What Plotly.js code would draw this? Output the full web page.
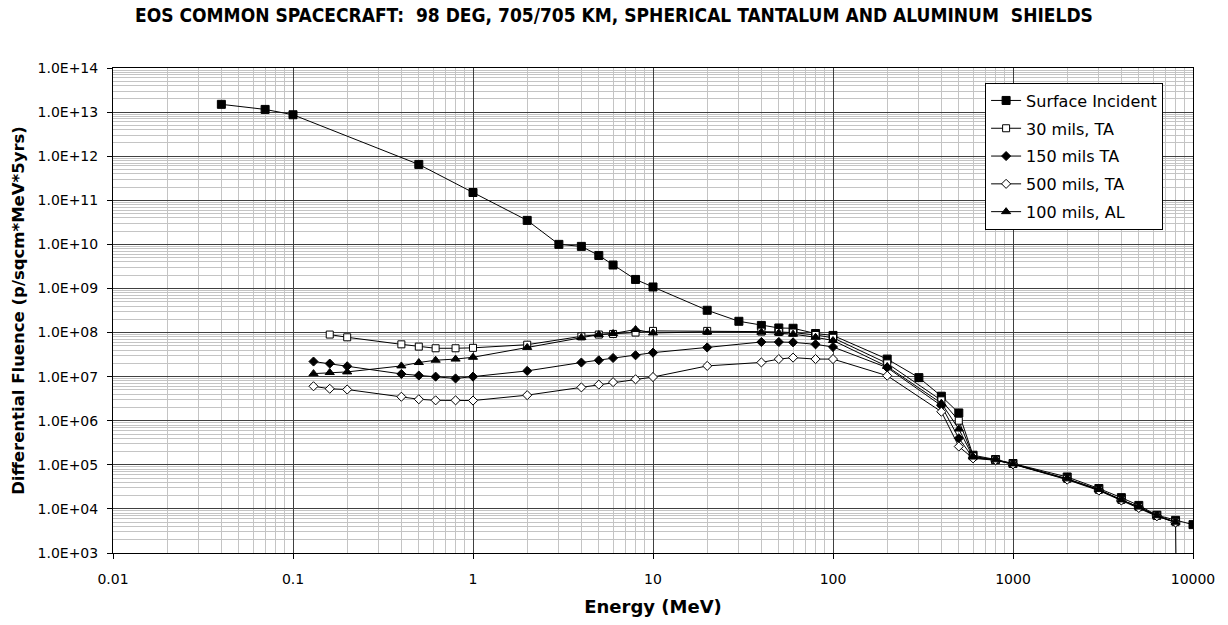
<!DOCTYPE html>
<html>
<head>
<meta charset="utf-8">
<script src="https://cdn.plot.ly/plotly-3.0.1.min.js"></script>
<style>
  html, body { margin: 0; padding: 0; background: #ffffff; }
  #chart { width: 1228px; height: 625px; }
</style>
</head>
<body>
<div id="chart"></div>
<script>
// Proton differential fluence behind spherical shields, EOS orbit (98 deg, 705 km)

// Energy grid (MeV) for the unshielded spectrum
const energySurface = [0.04, 0.07, 0.1, 0.5, 1, 2, 3, 4, 5, 6, 8, 10, 20, 30, 40, 50, 60, 80, 100,
  200, 300, 400, 500, 600, 800, 1000, 2000, 3000, 4000, 5000, 6300, 8000, 10000];
const fluenceSurface = [1.5e13, 1.15e13, 8.7e12, 6.5e11, 1.5e11, 3.5e10, 1.0e10, 9.0e9, 5.6e9, 3.4e9, 1.6e9, 1.08e9, 3.2e8, 1.8e8, 1.45e8, 1.27e8, 1.25e8, 9.5e7, 8.6e7,
  2.5e7, 9.5e6, 3.6e6, 1.5e6, 1.65e5, 1.32e5, 1.07e5, 5.3e4, 2.9e4, 1.8e4, 1.2e4, 7.2e3, 5.5e3, 4.4e3];

// Energy grid (MeV) for the shielded spectra
const energy30TA = [0.16, 0.2, 0.4, 0.5, 0.62, 0.8, 1, 2, 4, 5, 6, 8, 10, 20, 40, 50, 60, 80, 100,
  200, 400, 500, 600, 800, 1000, 2000, 3000, 4000, 5000, 6300, 8000];
const fluence30TA = [9.0e7, 7.8e7, 5.4e7, 4.8e7, 4.4e7, 4.4e7, 4.5e7, 5.3e7, 8.2e7, 9.0e7, 9.3e7, 1.0e8, 1.09e8, 1.09e8, 1.05e8, 1.03e8, 1.0e8, 8.8e7, 7.6e7,
  2.0e7, 2.9e6, 1.0e6, 1.55e5, 1.3e5, 1.05e5, 4.8e4, 2.7e4, 1.6e4, 1.1e4, 7.0e3, 5.0e3];

const energyShield = [0.13, 0.16, 0.2, 0.4, 0.5, 0.62, 0.8, 1, 2, 4, 5, 6, 8, 10, 20, 40, 50, 60, 80, 100,
  200, 400, 500, 600, 800, 1000, 2000, 3000, 4000, 5000, 6300, 8000];
const fluence150TA = [2.2e7, 1.98e7, 1.72e7, 1.15e7, 1.06e7, 1.0e7, 9.1e6, 1.0e7, 1.35e7, 2.09e7, 2.35e7, 2.65e7, 3.05e7, 3.5e7, 4.6e7, 6.1e7, 6.1e7, 6.0e7, 5.4e7, 4.7e7,
  1.6e7, 2.2e6, 4.0e5, 1.45e5, 1.28e5, 1.04e5, 4.7e4, 2.7e4, 1.6e4, 1.1e4, 7.0e3, 5.0e3];
const fluence100AL = [1.17e7, 1.24e7, 1.28e7, 1.75e7, 2.09e7, 2.36e7, 2.5e7, 2.75e7, 4.6e7, 7.7e7, 9.0e7, 9.5e7, 1.17e8, 9.8e7, 1.03e8, 1.02e8, 9.8e7, 9.2e7, 7.8e7, 6.6e7,
  1.7e7, 2.5e6, 6.5e5, 1.5e5, 1.3e5, 1.05e5, 4.8e4, 2.75e4, 1.6e4, 1.1e4, 7.0e3, 5.0e3];

// 500 mils TA carries one extra point at 10000 MeV that falls to ~0
const energy500TA = [0.13, 0.16, 0.2, 0.4, 0.5, 0.62, 0.8, 1, 2, 4, 5, 6, 8, 10, 20, 40, 50, 60, 80, 100,
  200, 400, 500, 600, 800, 1000, 2000, 3000, 4000, 5000, 6300, 8000, 10000];
const fluence500TA = [6.05e6, 5.3e6, 5.1e6, 3.5e6, 3.07e6, 2.9e6, 2.9e6, 2.87e6, 3.8e6, 5.7e6, 6.6e6, 7.5e6, 8.7e6, 9.8e6, 1.75e7, 2.1e7, 2.5e7, 2.7e7, 2.5e7, 2.5e7,
  1.05e7, 1.6e6, 2.6e5, 1.4e5, 1.27e5, 1.03e5, 4.6e4, 2.6e4, 1.55e4, 1.05e4, 6.8e3, 4.9e3, 1e-30];

const seriesNames = ["Surface Incident", "30 mils, TA", "150 mils TA", "500 mils, TA", "100 mils, AL"];

// Axis ticks
const xTickVals = [0.01, 0.1, 1, 10, 100, 1000, 10000];
const xTickText = ["0.01", "0.1", "1", "10", "100", "1000", "10000"];
const yTickVals = [1e3, 1e4, 1e5, 1e6, 1e7, 1e8, 1e9, 1e10, 1e11, 1e12, 1e13, 1e14];
const yTickText = ["1.0E+03", "1.0E+04", "1.0E+05", "1.0E+06", "1.0E+07", "1.0E+08",
  "1.0E+09", "1.0E+10", "1.0E+11", "1.0E+12", "1.0E+13", "1.0E+14"];

const FONT = "DejaVu Sans, Liberation Sans, sans-serif";
const TITLE_FONT = "DejaVu Sans Condensed, DejaVu Sans, sans-serif";

function series(name, x, y, symbol, hollow, size) {
  return {
    type: "scatter",
    mode: "lines+markers",
    name: name,
    legendgroup: name,
    x: x,
    y: y,
    line: { color: "#000000", width: 1 },
    marker: {
      symbol: symbol,
      size: size,
      color: hollow ? "#ffffff" : "#000000",
      line: { color: "#000000", width: 1 }
    }
  };
}

const traces = [
  series(seriesNames[0], energySurface, fluenceSurface, "square", false, 8),
  series(seriesNames[1], energy30TA, fluence30TA, "square", true, 7),
  series(seriesNames[2], energyShield, fluence150TA, "diamond", false, 7),
  series(seriesNames[3], energy500TA, fluence500TA, "diamond", true, 7),
  series(seriesNames[4], energyShield, fluence100AL, "triangle-up", false, 8)
];

const layout = {
  width: 1228,
  height: 625,
  paper_bgcolor: "#ffffff",
  plot_bgcolor: "#ffffff",
  margin: { l: 113, r: 35, t: 68, b: 72, pad: 0 },
  font: { family: FONT, size: 14, color: "#000000" },
  title: {
    text: "<b>EOS COMMON SPACECRAFT:  98 DEG, 705/705 KM, SPHERICAL TANTALUM AND ALUMINUM  SHIELDS</b>",
    font: { family: TITLE_FONT, size: 19, color: "#000000" },
    x: 0.5,
    xanchor: "center",
    y: 0.976,
    yref: "container",
    yanchor: "middle"
  },
  xaxis: {
    type: "log",
    range: [-2, 4],
    tickmode: "array",
    tickvals: xTickVals,
    ticktext: xTickText,
    ticks: "outside",
    ticklen: 5,
    tickcolor: "#000000",
    ticklabelstandoff: 8,
    tickfont: { family: FONT, size: 14 },
    showgrid: true,
    gridcolor: "#404040",
    gridwidth: 1,
    minor: { dtick: "D1", showgrid: true, gridcolor: "#c4c4c4", gridwidth: 1, ticks: "" },
    showline: true,
    linecolor: "#000000",
    linewidth: 1,
    mirror: true,
    zeroline: false,
    title: {
      text: "<b>Energy (MeV)</b>",
      font: { family: FONT, size: 18 },
      standoff: 14
    }
  },
  yaxis: {
    type: "log",
    range: [3, 14],
    tickmode: "array",
    tickvals: yTickVals,
    ticktext: yTickText,
    ticks: "outside",
    ticklen: 5,
    tickcolor: "#000000",
    ticklabelstandoff: 6,
    tickfont: { family: FONT, size: 14 },
    showgrid: true,
    gridcolor: "#404040",
    gridwidth: 1,
    minor: { dtick: "D1", showgrid: true, gridcolor: "#c4c4c4", gridwidth: 1, ticks: "" },
    showline: true,
    linecolor: "#000000",
    linewidth: 1,
    mirror: true,
    zeroline: false,
    title: {
      text: "<b>Differential Fluence (p/sqcm*MeV*5yrs)</b>",
      font: { family: FONT, size: 16.5 },
      standoff: 8
    }
  },
  showlegend: true,
  legend: {
    x: 0.8075,
    y: 0.97,
    xanchor: "left",
    yanchor: "top",
    bgcolor: "#ffffff",
    bordercolor: "#000000",
    borderwidth: 1,
    font: { family: FONT, size: 16, color: "#000000" },
    itemwidth: 30,
    tracegroupgap: 4
  }
};

Plotly.newPlot("chart", traces, layout, { staticPlot: true, displayModeBar: false });
</script>
</body>
</html>
